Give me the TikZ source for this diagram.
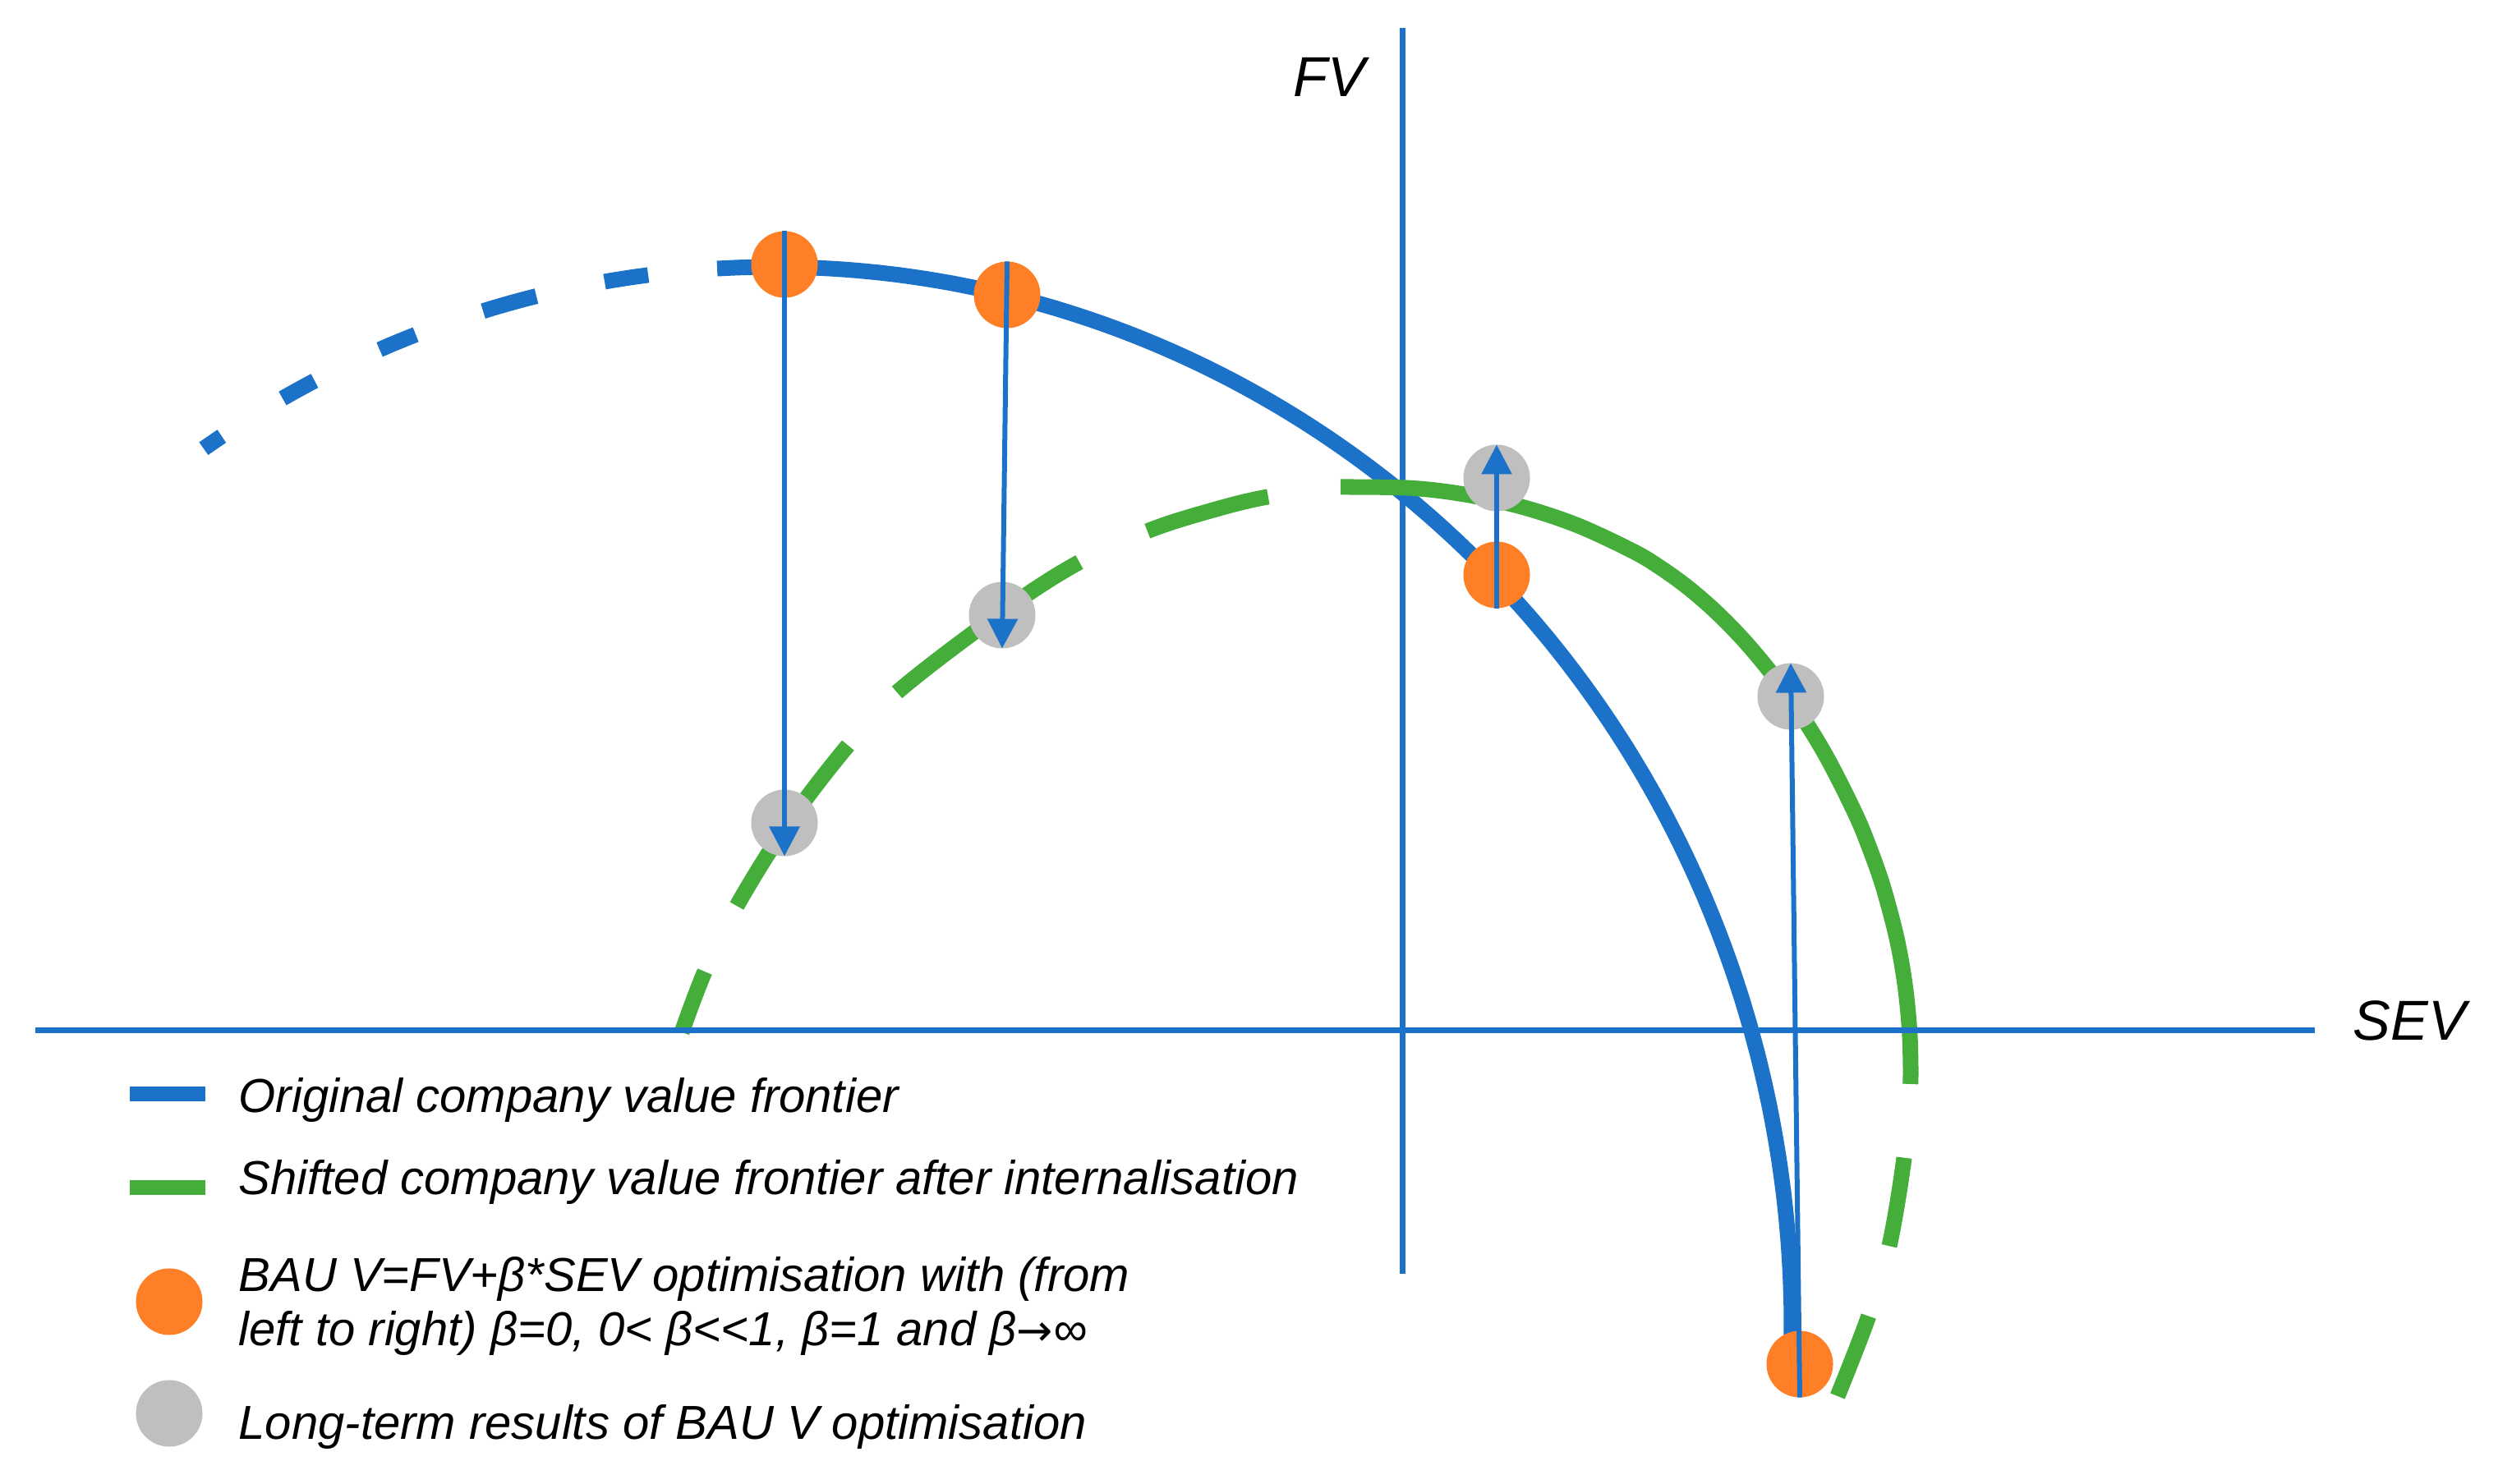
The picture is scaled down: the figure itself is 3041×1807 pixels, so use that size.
\documentclass[tikz,border=0pt]{standalone}
\usepackage{fontspec}
\setmainfont{Liberation Sans}
\newfontfamily\arrowfont{DejaVu Sans}
\usetikzlibrary{arrows.meta}
\definecolor{cblue}{HTML}{1B72C8}
\definecolor{cgreen}{HTML}{45AE3B}
\definecolor{corange}{HTML}{FF7F27}
\definecolor{cgrey}{HTML}{BFBFBF}
\begin{document}
\begin{tikzpicture}[x=0.01cm, y=-0.01cm,
  axisline/.style={draw=cblue, line width=0.07cm},
  frontier/.style={line width=0.19cm},
  dot/.style={circle, minimum size=0.81cm, inner sep=0pt, outer sep=0pt},
  bau/.style={dot, fill=corange},
  ltr/.style={dot, fill=cgrey},
  arr/.style={draw=cblue, line width=0.06cm, -{Triangle[length=0.36cm,width=0.36cm]}},
  axlabel/.style={font=\fontsize{19.5}{23}\selectfont\itshape, inner sep=0pt, anchor=base west},
  legtext/.style={font=\fontsize{16.5}{18.5}\selectfont\itshape, inner sep=0pt, anchor=base west, align=left},
  legbar/.style={minimum width=0.92cm, minimum height=0.18cm, inner sep=0pt, outer sep=0pt}
]
\useasboundingbox (0,0) rectangle (3041,1807);

% axes coordinates
\coordinate (xl) at (43,1255);
\coordinate (xr) at (2818,1255);
\coordinate (yt) at (1707,34);
\coordinate (yb) at (1707,1551);
\draw[axisline] (yt) -- (yb);

% original frontier (blue)
\draw[cblue, frontier] plot[domain=-2.5:93.19, samples=160] ({942+1239*cos(\x)},{1614-1289*sin(\x)});
\foreach \a/\b in {97.09/99.57, 103.49/106.6, 110.6/112.79, 116.82/118.86, 122.85/124.07}
  \draw[cblue, frontier] plot[domain=\a:\b, samples=12] ({942+1239*cos(\x)},{1614-1289*sin(\x)});

% shifted frontier (green)
\draw[cgreen, frontier, dash pattern=on 0.79cm off 0.89cm on 2.38cm off 0.88cm on 2.73cm off 0.91cm on 1.53cm off 10cm]
  plot[smooth, tension=0.6] coordinates {(830,1257) (858,1183) (897,1103) (960,1002) (1032,908) (1092,843) (1220,745) (1313,685) (1396,647) (1470,623) (1543,605) (1632,593) (1717.6,594.3)};
\draw[cgreen, frontier]
  plot[smooth, tension=0.55] coordinates {(1632,593) (1717.6,594.3) (1785.2,602.4) (1852.8,617.2) (1920.4,639.7) (1988,671.2) (2021.8,691.5) (2055.6,716) (2089.4,745.4) (2123.2,780) (2157,820.5) (2190.8,867.8) (2224.6,923.3) (2258.4,990.3) (2275.3,1031) (2292.2,1079) (2309.1,1142.7) (2319.2,1200) (2324.6,1255) (2326,1300) (2325.7,1320)};
\draw[cgreen, frontier, dash pattern=on 1.09cm off 0.89cm on 1.05cm off 10cm, dash phase=11.48cm]
  plot[smooth, tension=0.55] coordinates {(2324.6,1255) (2326,1300) (2325.7,1320) (2318,1410) (2300,1517) (2275,1602) (2237,1700)};

\draw[axisline] (xl) -- (xr);

% points
\node[bau] (o1) at (955,322) {};
\node[bau] (o2) at (1226,359) {};
\node[bau] (o3) at (1822,700) {};
\node[bau] (o4) at (2191,1661) {};
\node[ltr] (g1) at (955,1002) {};
\node[ltr] (g2) at (1220,749) {};
\node[ltr] (g3) at (1822,582) {};
\node[ltr] (g4) at (2180,848) {};

\draw[arr] (o1.north) -- (g1.south);
\draw[arr] (o2.north) -- (g2.south);
\draw[arr] (o3.south) -- (g3.north);
\draw[arr] (o4.south) -- (g4.north);

% axis labels
\node[axlabel] (fv) at (1574,118) {FV};
\node[axlabel] (sev) at (2864,1267) {SEV};

% legend
\node[legbar, fill=cblue] (lb1) at (204,1332) {};
\node[legbar, fill=cgreen] (lb2) at (204,1446) {};
\node[dot, fill=corange] (lc1) at (206,1585) {};
\node[dot, fill=cgrey] (lc2) at (206,1721) {};
\node[legtext] (lt1) at (290,1355) {Original company value frontier};
\node[legtext] (lt2) at (290,1455) {Shifted company value frontier after internalisation};
\node[legtext] (lt3) at (290,1638) {BAU V=FV+β*SEV optimisation with (from\\left to right) β=0, 0< β<{}<1, β=1 and β{\arrowfont\itshape\fontsize{15}{18}\selectfont →}∞};
\node[legtext] (lt4) at (290,1752) {Long-term results of BAU V optimisation};
\end{tikzpicture}
\end{document}
